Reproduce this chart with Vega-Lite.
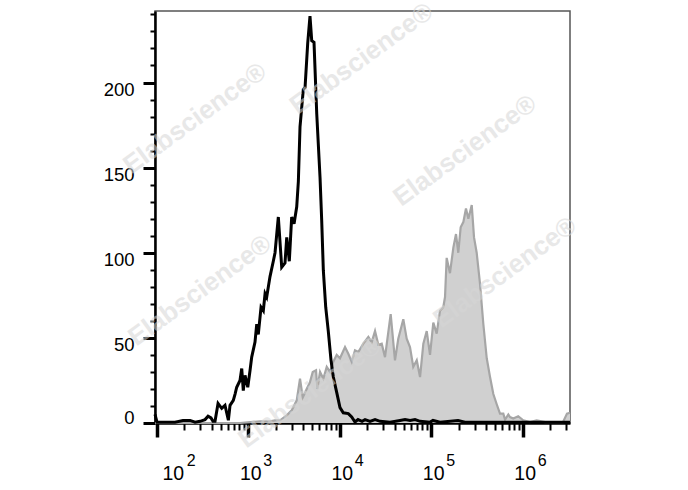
{
  "$schema": "https://vega.github.io/schema/vega-lite/v6.json",
  "autosize": {"type": "none"},
  "padding": {"left": 155, "top": 11, "right": 118, "bottom": 67},
  "width": 415,
  "height": 412,
  "background": "white",
  "config": {
    "font": "Liberation Sans",
    "view": {"stroke": "#555555", "strokeWidth": 1.5},
    "axis": {"grid": false, "labelColor": "black", "labelFont": "Liberation Sans"}
  },
  "datasets": {
    "stained": [
      {"log_fl": 1.981, "count": 0}, {"log_fl": 2.91, "count": 0}, {"log_fl": 3.02, "count": 0.5},
      {"log_fl": 3.129, "count": 1}, {"log_fl": 3.238, "count": 1}, {"log_fl": 3.293, "count": 1.5},
      {"log_fl": 3.348, "count": 1.6}, {"log_fl": 3.421, "count": 4.5}, {"log_fl": 3.475, "count": 7.5},
      {"log_fl": 3.53, "count": 13.3}, {"log_fl": 3.566, "count": 26}, {"log_fl": 3.596, "count": 15},
      {"log_fl": 3.639, "count": 20}, {"log_fl": 3.675, "count": 24}, {"log_fl": 3.705, "count": 30},
      {"log_fl": 3.741, "count": 31}, {"log_fl": 3.755, "count": 20}, {"log_fl": 3.785, "count": 30},
      {"log_fl": 3.821, "count": 26}, {"log_fl": 3.858, "count": 33}, {"log_fl": 3.894, "count": 30},
      {"log_fl": 3.93, "count": 36}, {"log_fl": 3.967, "count": 40}, {"log_fl": 4.003, "count": 38},
      {"log_fl": 4.058, "count": 44.6}, {"log_fl": 4.094, "count": 40.7}, {"log_fl": 4.131, "count": 36},
      {"log_fl": 4.167, "count": 42.7}, {"log_fl": 4.203, "count": 41.7}, {"log_fl": 4.258, "count": 46.6},
      {"log_fl": 4.313, "count": 50.5}, {"log_fl": 4.35, "count": 47.5}, {"log_fl": 4.386, "count": 54},
      {"log_fl": 4.422, "count": 46}, {"log_fl": 4.459, "count": 46.6}, {"log_fl": 4.495, "count": 38.7},
      {"log_fl": 4.557, "count": 64}, {"log_fl": 4.604, "count": 36.8}, {"log_fl": 4.64, "count": 49.5},
      {"log_fl": 4.695, "count": 61}, {"log_fl": 4.732, "count": 49.5}, {"log_fl": 4.768, "count": 44.6},
      {"log_fl": 4.804, "count": 33}, {"log_fl": 4.842, "count": 36.8}, {"log_fl": 4.878, "count": 27},
      {"log_fl": 4.914, "count": 46.6}, {"log_fl": 4.951, "count": 54}, {"log_fl": 4.987, "count": 40},
      {"log_fl": 5.023, "count": 59}, {"log_fl": 5.06, "count": 52.5}, {"log_fl": 5.096, "count": 66},
      {"log_fl": 5.132, "count": 68}, {"log_fl": 5.151, "count": 74}, {"log_fl": 5.169, "count": 97},
      {"log_fl": 5.205, "count": 88}, {"log_fl": 5.242, "count": 103}, {"log_fl": 5.271, "count": 111},
      {"log_fl": 5.296, "count": 100}, {"log_fl": 5.322, "count": 115}, {"log_fl": 5.351, "count": 118},
      {"log_fl": 5.38, "count": 126}, {"log_fl": 5.406, "count": 120}, {"log_fl": 5.443, "count": 128},
      {"log_fl": 5.468, "count": 109}, {"log_fl": 5.497, "count": 100}, {"log_fl": 5.533, "count": 82},
      {"log_fl": 5.57, "count": 58}, {"log_fl": 5.607, "count": 38}, {"log_fl": 5.643, "count": 27},
      {"log_fl": 5.679, "count": 17}, {"log_fl": 5.716, "count": 11}, {"log_fl": 5.752, "count": 5.5},
      {"log_fl": 5.788, "count": 5.5}, {"log_fl": 5.807, "count": 2}, {"log_fl": 5.843, "count": 5},
      {"log_fl": 5.861, "count": 3.5}, {"log_fl": 5.897, "count": 2.6}, {"log_fl": 5.951, "count": 4},
      {"log_fl": 6.006, "count": 1.6}, {"log_fl": 6.08, "count": 0.5}, {"log_fl": 6.153, "count": 1.5},
      {"log_fl": 6.244, "count": 0.5}, {"log_fl": 6.353, "count": 0.5}, {"log_fl": 6.44, "count": 0.5},
      {"log_fl": 6.484, "count": 5.5}, {"log_fl": 6.517, "count": 6}
    ],
    "control": [
      {"log_fl": 1.981, "count": 5}, {"log_fl": 2.003, "count": 0.5}, {"log_fl": 2.091, "count": 0.5},
      {"log_fl": 2.2, "count": 0.5}, {"log_fl": 2.287, "count": 1.5}, {"log_fl": 2.364, "count": 1.5},
      {"log_fl": 2.419, "count": 0.5}, {"log_fl": 2.473, "count": 1}, {"log_fl": 2.528, "count": 2},
      {"log_fl": 2.561, "count": 4}, {"log_fl": 2.593, "count": 3}, {"log_fl": 2.615, "count": 1},
      {"log_fl": 2.637, "count": 1}, {"log_fl": 2.67, "count": 11.5}, {"log_fl": 2.71, "count": 8.6},
      {"log_fl": 2.746, "count": 10.4}, {"log_fl": 2.783, "count": 1.6}, {"log_fl": 2.801, "count": 10.4},
      {"log_fl": 2.837, "count": 13.3}, {"log_fl": 2.856, "count": 17}, {"log_fl": 2.874, "count": 21},
      {"log_fl": 2.91, "count": 25}, {"log_fl": 2.929, "count": 32}, {"log_fl": 2.946, "count": 19},
      {"log_fl": 2.965, "count": 28}, {"log_fl": 2.995, "count": 21}, {"log_fl": 3.02, "count": 31},
      {"log_fl": 3.038, "count": 38.7}, {"log_fl": 3.074, "count": 47.5}, {"log_fl": 3.093, "count": 58},
      {"log_fl": 3.11, "count": 52}, {"log_fl": 3.14, "count": 68}, {"log_fl": 3.165, "count": 66},
      {"log_fl": 3.184, "count": 76}, {"log_fl": 3.202, "count": 74}, {"log_fl": 3.238, "count": 86},
      {"log_fl": 3.274, "count": 95}, {"log_fl": 3.293, "count": 100}, {"log_fl": 3.329, "count": 121},
      {"log_fl": 3.366, "count": 91.5}, {"log_fl": 3.402, "count": 94}, {"log_fl": 3.421, "count": 109},
      {"log_fl": 3.449, "count": 95}, {"log_fl": 3.475, "count": 121}, {"log_fl": 3.501, "count": 117},
      {"log_fl": 3.53, "count": 127}, {"log_fl": 3.548, "count": 142}, {"log_fl": 3.566, "count": 174},
      {"log_fl": 3.602, "count": 196}, {"log_fl": 3.621, "count": 197}, {"log_fl": 3.65, "count": 223},
      {"log_fl": 3.675, "count": 239}, {"log_fl": 3.694, "count": 224.6}, {"log_fl": 3.719, "count": 223.6},
      {"log_fl": 3.749, "count": 181.5}, {"log_fl": 3.785, "count": 144}, {"log_fl": 3.803, "count": 119},
      {"log_fl": 3.821, "count": 89.6}, {"log_fl": 3.847, "count": 68}, {"log_fl": 3.875, "count": 54},
      {"log_fl": 3.905, "count": 36.8}, {"log_fl": 3.93, "count": 27}, {"log_fl": 3.967, "count": 18},
      {"log_fl": 4.003, "count": 9}, {"log_fl": 4.039, "count": 6}, {"log_fl": 4.094, "count": 5.5},
      {"log_fl": 4.131, "count": 3.5}, {"log_fl": 4.167, "count": 0.6}, {"log_fl": 4.2, "count": 2},
      {"log_fl": 4.244, "count": 1}, {"log_fl": 4.277, "count": 2}, {"log_fl": 4.331, "count": 1},
      {"log_fl": 4.386, "count": 2}, {"log_fl": 4.441, "count": 1}, {"log_fl": 4.55, "count": 0.5},
      {"log_fl": 4.659, "count": 1.5}, {"log_fl": 4.714, "count": 2}, {"log_fl": 4.769, "count": 1.5},
      {"log_fl": 4.823, "count": 2}, {"log_fl": 4.878, "count": 1}, {"log_fl": 4.988, "count": 0.5},
      {"log_fl": 5.02, "count": 1.5}, {"log_fl": 5.096, "count": 0.5}, {"log_fl": 5.293, "count": 1.5},
      {"log_fl": 5.369, "count": 0.5}, {"log_fl": 5.533, "count": 0.5}, {"log_fl": 5.752, "count": 0.5},
      {"log_fl": 5.97, "count": 0.5}, {"log_fl": 6.189, "count": 0.5}, {"log_fl": 6.408, "count": 0.5},
      {"log_fl": 6.517, "count": 0.5}
    ],
    "watermark": [
      {"log_fl": 2.419, "count": 178.8, "text": "Elabscience®"},
      {"log_fl": 4.24, "count": 214, "text": "Elabscience®"},
      {"log_fl": 5.37, "count": 160, "text": "Elabscience®"},
      {"log_fl": 2.473, "count": 77.8, "text": "Elabscience®"},
      {"log_fl": 5.807, "count": 88.4, "text": "Elabscience®"},
      {"log_fl": 3.675, "count": 18, "text": "Elabscience®"}
    ]
  },
  "resolve": {"axis": {"x": "independent", "y": "independent"}, "scale": {"x": "shared", "y": "shared"}},
  "layer": [
    {
      "data": {"name": "stained"},
      "mark": {"type": "area", "color": "#d0d0d0", "opacity": 1, "line": {"color": "#a6a6a6", "strokeWidth": 2.2}},
      "encoding": {
        "x": {
          "field": "log_fl", "type": "quantitative",
          "scale": {"domain": [1.981, 6.517], "nice": false, "zero": false},
          "axis": {
            "orient": "bottom", "title": null,
            "values": [2, 2.30103, 2.47712, 2.60206, 2.69897, 2.77815, 2.8451, 2.90309, 2.95424,
                       3, 3.30103, 3.47712, 3.60206, 3.69897, 3.77815, 3.8451, 3.90309, 3.95424,
                       4, 4.30103, 4.47712, 4.60206, 4.69897, 4.77815, 4.8451, 4.90309, 4.95424,
                       5, 5.30103, 5.47712, 5.60206, 5.69897, 5.77815, 5.8451, 5.90309, 5.95424,
                       6, 6.30103, 6.47712],
            "domainColor": "black", "domainWidth": 2.5,
            "tickColor": "black",
            "tickSize": {"condition": {"test": "abs(datum.value - round(datum.value)) < 0.001", "value": 14}, "value": 7},
            "tickWidth": {"condition": {"test": "abs(datum.value - round(datum.value)) < 0.001", "value": 3.5}, "value": 2},
            "labelExpr": "abs(datum.value - round(datum.value)) < 0.001 ? '10' : ''",
            "labelFontSize": 19.5, "labelBaseline": "alphabetic", "labelPadding": 42,
            "labelOffset": {"condition": {"test": "datum.value < 2.5", "value": 16}, "value": 2},
            "labelFlush": false, "labelOverlap": false
          }
        },
        "y": {
          "field": "count", "type": "quantitative",
          "scale": {"domain": [0, 242], "nice": false},
          "axis": {
            "title": null,
            "values": [0, 10, 20, 30, 40, 50, 60, 70, 80, 90, 100, 110, 120, 130, 140, 150, 160, 170, 180, 190, 200, 210, 220, 230, 240],
            "domainColor": "black", "domainWidth": 2.5,
            "tickColor": "black",
            "tickSize": {"condition": {"test": "datum.value % 50 === 0", "value": 12}, "value": 5},
            "tickWidth": {"condition": {"test": "datum.value % 50 === 0", "value": 3}, "value": 2},
            "labelExpr": "datum.value % 50 === 0 ? datum.label : ''",
            "labelFontSize": 18.5, "labelPadding": 9,
            "labelOffset": {"condition": {"test": "datum.value === 0", "value": -6}, "value": 7},
            "labelOverlap": false
          }
        }
      }
    },
    {
      "data": {"name": "control"},
      "mark": {"type": "line", "color": "black", "strokeWidth": 3, "strokeJoin": "miter"},
      "encoding": {
        "x": {
          "field": "log_fl", "type": "quantitative",
          "axis": {
            "orient": "bottom", "title": null, "values": [2, 3, 4, 5, 6],
            "domain": false, "ticks": false,
            "labelExpr": "'' + round(datum.value)",
            "labelFontSize": 16, "labelBaseline": "alphabetic", "labelPadding": 42,
            "labelOffset": {"condition": {"test": "datum.value < 2.5", "value": 34}, "value": 19},
            "labelFlush": false, "labelOverlap": false
          }
        },
        "y": {"field": "count", "type": "quantitative", "axis": null}
      }
    },
    {
      "data": {"name": "watermark"},
      "mark": {"type": "text", "font": "Liberation Sans", "fontWeight": "bold", "fontSize": 26, "angle": -36, "color": "#d6d6d6", "opacity": 0.55},
      "encoding": {
        "x": {"field": "log_fl", "type": "quantitative", "axis": null},
        "y": {"field": "count", "type": "quantitative", "axis": null},
        "text": {"field": "text"}
      }
    }
  ]
}
